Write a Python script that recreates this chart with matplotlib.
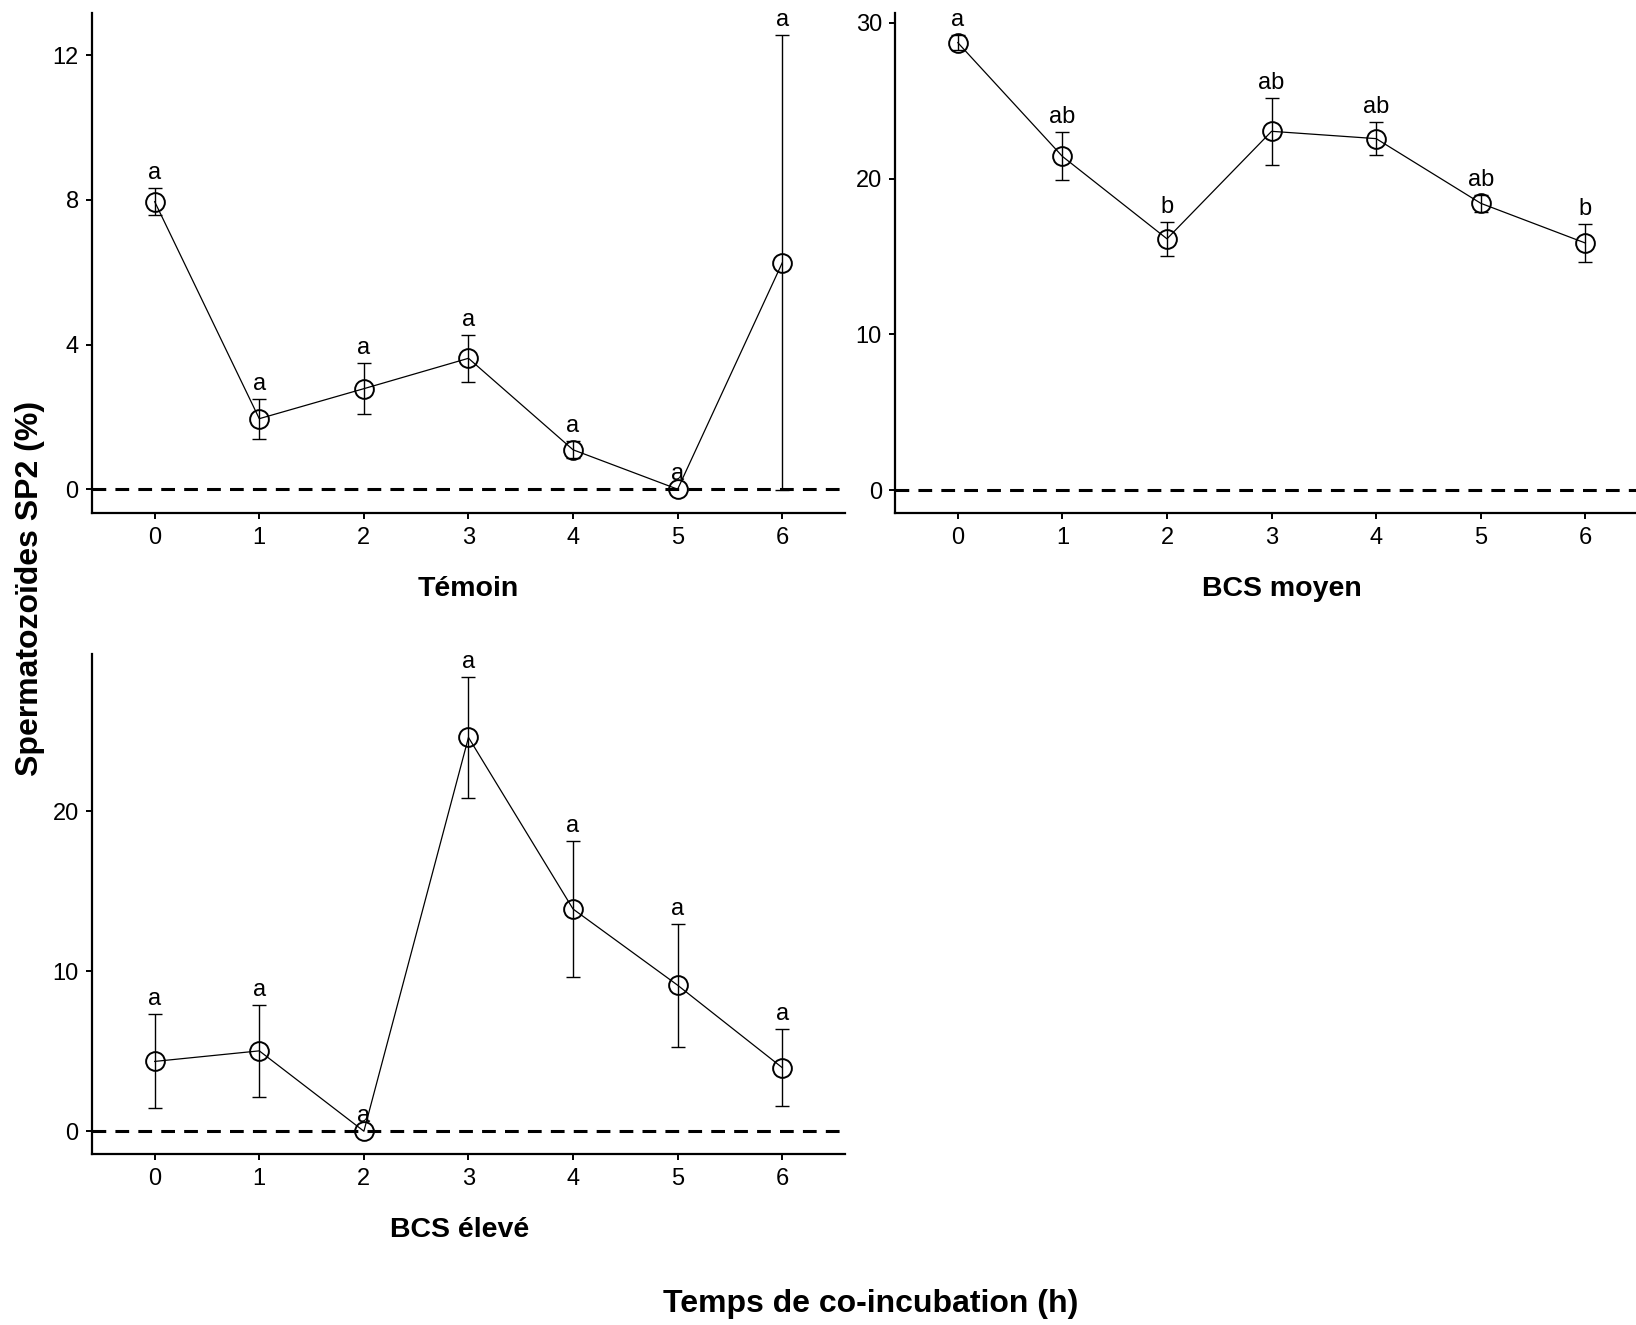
import matplotlib
matplotlib.use("Agg")
import matplotlib.pyplot as plt

plt.rcParams['font.family'] = ['Liberation Sans', 'DejaVu Sans']

# temps de co-incubation (h)
hours = [0, 1, 2, 3, 4, 5, 6]

# moyennes et erreurs standard
temoin_mean = [7.95, 1.95, 2.78, 3.62, 1.09, 0.0, 6.26]
temoin_se = [0.38, 0.55, 0.71, 0.65, 0.23, 0.0, 6.29]
temoin_lettres = ['a', 'a', 'a', 'a', 'a', 'a', 'a']

moyen_mean = [28.73, 21.43, 16.14, 23.04, 22.57, 18.42, 15.87]
moyen_se = [0.47, 1.54, 1.10, 2.14, 1.04, 0.53, 1.24]
moyen_lettres = ['a', 'ab', 'b', 'ab', 'ab', 'ab', 'b']

eleve_mean = [4.36, 5.02, 0.0, 24.60, 13.88, 9.12, 3.97]
eleve_se = [2.94, 2.87, 0.0, 3.80, 4.25, 3.85, 2.41]
eleve_lettres = ['a', 'a', 'a', 'a', 'a', 'a', 'a']

titres = ['Témoin', 'BCS moyen', 'BCS élevé']
yticks = [[0, 4, 8, 12], [0, 10, 20, 30], [0, 10, 20]]


def panel(ax, mean, se, lettres, titre, ticks, title_x=0.5):
    # barres d'erreur (on saute les points sans erreur)
    xs = [h for h, s in zip(hours, se) if s > 0]
    ys = [m for m, s in zip(mean, se) if s > 0]
    es = [s for s in se if s > 0]
    ax.errorbar(xs, ys, yerr=es, fmt='none', ecolor='black', elinewidth=1.0,
                capsize=5, capthick=1.0, zorder=2)
    ax.axhline(0, color='black', lw=2.2, ls=(0, (4.5, 3)), zorder=1)
    ax.plot(hours, mean, color='black', lw=0.9, zorder=3)
    ax.plot(hours, mean, ls='none', marker='o', ms=13.5, mfc='none',
            mec='black', mew=1.4, zorder=4)
    for h, m, s, l in zip(hours, mean, se, lettres):
        ax.annotate(l, (h, m + s), xytext=(0, 6.5), textcoords='offset points',
                    ha='center', va='baseline', fontsize=17)

    lo = min(0, min(m - s for m, s in zip(mean, se)))
    hi = max(m + s for m, s in zip(mean, se))
    pad = (hi - lo) * 0.05
    ax.set_ylim(lo - pad, hi + pad)
    ax.set_xlim(-0.6, 6.6)
    ax.set_xticks(hours)
    ax.set_yticks(ticks)
    for side in ['top', 'right']:
        ax.spines[side].set_visible(False)
    for side in ['left', 'bottom']:
        ax.spines[side].set_linewidth(1.6)
    ax.tick_params(axis='both', length=4, width=1.4, labelsize=17)
    ax.tick_params(axis='x', pad=6)
    ax.tick_params(axis='y', pad=5.5)
    ax.set_xlabel(titre, fontsize=20.5, fontweight='bold')
    ax.xaxis.set_label_coords(title_x, -0.126)


fig = plt.figure(figsize=(16.36, 13.25), dpi=100)
ax1 = fig.add_axes([0.0562, 0.6128, 0.4603, 0.3777])
ax2 = fig.add_axes([0.5471, 0.6128, 0.4603, 0.3777])
ax3 = fig.add_axes([0.0562, 0.1291, 0.4603, 0.3774])

panel(ax1, temoin_mean, temoin_se, temoin_lettres, titres[0], yticks[0])
panel(ax2, moyen_mean, moyen_se, moyen_lettres, titres[1], yticks[1], title_x=0.514)
panel(ax3, eleve_mean, eleve_se, eleve_lettres, titres[2], yticks[2], title_x=0.488)

fig.text(871 / 1636, 1 - 1304 / 1325, 'Temps de co-incubation (h)',
         ha='center', va='center', fontsize=23, fontweight='bold')
fig.text(30 / 1636, 1 - 588 / 1325, 'Spermatozoïdes SP2 (%)', rotation=90,
         ha='center', va='center', fontsize=23, fontweight='bold')

fig.savefig('out.png', dpi=100)
